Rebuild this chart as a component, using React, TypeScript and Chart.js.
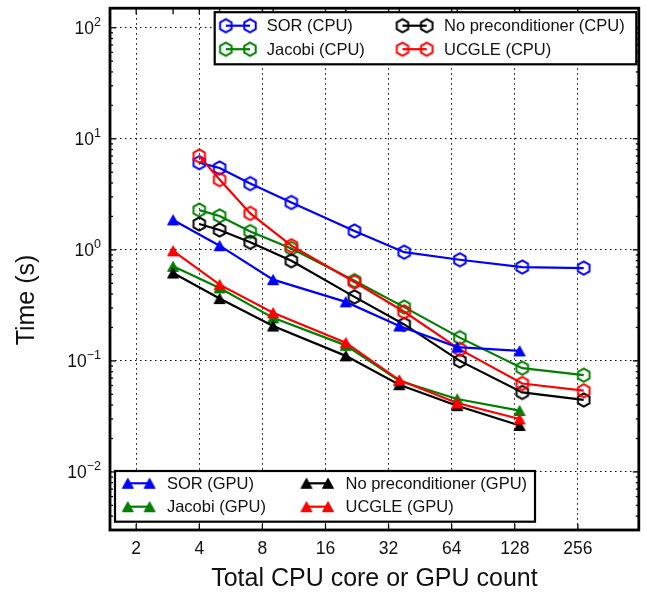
import React, { useEffect, useRef } from 'react';
import { Chart, registerables } from 'chart.js';
Chart.register(...registerables);

// ---- data ----
const cpuCounts = [4, 5, 7, 11, 22, 38, 70, 139, 273];
const gpuCounts = [3, 5, 9, 20, 36, 68, 135];

const sorCpu = [6.1, 5.46, 3.95, 2.67, 1.48, 0.953, 0.814, 0.7, 0.685];
const jacobiCpu = [2.28, 2.02, 1.46, 1.03, 0.528, 0.305, 0.162, 0.086, 0.0744];
const noPreCpu = [1.71, 1.51, 1.17, 0.797, 0.377, 0.213, 0.1, 0.052, 0.0445];
const ucgleCpu = [7.0, 4.29, 2.13, 1.09, 0.513, 0.277, 0.127, 0.0626, 0.0539];

const sorGpu = [1.86, 1.09, 0.539, 0.34, 0.206, 0.133, 0.123];
const jacobiGpu = [0.71, 0.454, 0.244, 0.138, 0.0662, 0.0454, 0.0357];
const noPreGpu = [0.618, 0.364, 0.206, 0.111, 0.061, 0.0395, 0.0262];
const ucgleGpu = [0.98, 0.486, 0.271, 0.146, 0.0671, 0.0418, 0.03];

const cpuLabels = ['SOR (CPU)', 'Jacobi (CPU)', 'No preconditioner (CPU)', 'UCGLE (CPU)'];
const gpuLabels = ['SOR (GPU)', 'Jacobi (GPU)', 'No preconditioner (GPU)', 'UCGLE (GPU)'];
const colors = ['#0000ff', '#008000', '#000000', '#ff0000'];

const xTicks = [2, 4, 8, 16, 32, 64, 128, 256];
const xTickLabels = ['2', '4', '8', '16', '32', '64', '128', '256'];
const yTicks = [0.01, 0.1, 1, 10, 100];
const yTickExp = ['\u22122', '\u22121', '0', '1', '2'];

const X_MIN = 1.5;
const X_MAX = 500;
const Y_MIN = 0.003;
const Y_MAX = 150;

const FONT = '"Liberation Sans", Arial, sans-serif';

function makeHexagon(color: string): HTMLCanvasElement {
  const r = 6.6;
  const lw = 2;
  const size = Math.ceil(2 * r + lw + 4);
  const c = document.createElement('canvas');
  c.width = size;
  c.height = size;
  const g = c.getContext('2d')!;
  const cx = size / 2;
  const cy = size / 2;
  g.beginPath();
  for (let k = 0; k < 6; k++) {
    const a = -Math.PI / 2 + (k * Math.PI) / 3;
    const px = cx + r * Math.cos(a);
    const py = cy + r * Math.sin(a);
    if (k === 0) g.moveTo(px, py);
    else g.lineTo(px, py);
  }
  g.closePath();
  g.strokeStyle = color;
  g.lineWidth = lw;
  g.stroke();
  return c;
}

function makeTriangle(color: string): HTMLCanvasElement {
  const w = 12;
  const h = 11;
  const c = document.createElement('canvas');
  c.width = w + 2;
  c.height = h + 2;
  const g = c.getContext('2d')!;
  g.beginPath();
  g.moveTo(1 + w / 2, 1.5);
  g.lineTo(1.5, h + 0.5);
  g.lineTo(w + 0.5, h + 0.5);
  g.closePath();
  g.fillStyle = color;
  g.fill();
  g.strokeStyle = color;
  g.lineWidth = 1;
  g.stroke();
  return c;
}

export default function App() {
  const ref = useRef<HTMLCanvasElement | null>(null);

  useEffect(() => {
    if (!ref.current) return;
    const hex = colors.map(makeHexagon);
    const tri = colors.map(makeTriangle);
    const cpuSeries = [sorCpu, jacobiCpu, noPreCpu, ucgleCpu];
    const gpuSeries = [sorGpu, jacobiGpu, noPreGpu, ucgleGpu];

    const datasets: any[] = [];
    cpuSeries.forEach((s, i) => {
      datasets.push({
        label: cpuLabels[i],
        data: cpuCounts.map((x, j) => ({ x, y: s[j] })),
        borderColor: colors[i],
        borderWidth: 2.2,
        pointStyle: hex[i],
        pointRadius: 6,
        fill: false,
        tension: 0,
      });
    });
    gpuSeries.forEach((s, i) => {
      datasets.push({
        label: gpuLabels[i],
        data: gpuCounts.map((x, j) => ({ x, y: s[j] })),
        borderColor: colors[i],
        backgroundColor: colors[i],
        borderWidth: 2.2,
        pointStyle: tri[i],
        pointRadius: 6,
        fill: false,
        tension: 0,
      });
    });
    const n = datasets.length;
    datasets.forEach((d, i) => (d.order = n - i));

    const line = (ctx: CanvasRenderingContext2D, x1: number, y1: number, x2: number, y2: number) => {
      ctx.beginPath();
      ctx.moveTo(x1, y1);
      ctx.lineTo(x2, y2);
      ctx.stroke();
    };

    const drawLegend = (
      ctx: CanvasRenderingContext2D,
      box: [number, number, number, number],
      rows: [number, number],
      cols: { m1: number; m2: number; tx: number }[],
      labels: string[],
      markers: HTMLCanvasElement[]
    ) => {
      const [x0, y0, x1, y1] = box;
      ctx.fillStyle = '#ffffff';
      ctx.fillRect(x0, y0, x1 - x0, y1 - y0);
      ctx.strokeStyle = '#000';
      ctx.lineWidth = 2.2;
      ctx.strokeRect(x0, y0, x1 - x0, y1 - y0);
      ctx.font = `16.5px ${FONT}`;
      ctx.textBaseline = 'middle';
      ctx.textAlign = 'left';
      for (let i = 0; i < 4; i++) {
        const col = cols[Math.floor(i / 2)];
        const ry = rows[i % 2];
        ctx.strokeStyle = colors[i];
        ctx.lineWidth = 2.2;
        line(ctx, col.m1, ry, col.m2, ry);
        const m = markers[i];
        ctx.drawImage(m, col.m1 - m.width / 2, ry - m.height / 2);
        ctx.drawImage(m, col.m2 - m.width / 2, ry - m.height / 2);
        ctx.fillStyle = '#111';
        ctx.fillText(labels[i], col.tx, ry + 1);
      }
    };

    const framePlugin = {
      id: 'frame',
      afterDraw(chart: any) {
        const ctx: CanvasRenderingContext2D = chart.ctx;
        const { left, right, top, bottom } = chart.chartArea;
        const xs = chart.scales.x;
        const ys = chart.scales.y;
        ctx.save();
        ctx.strokeStyle = '#000';
        ctx.lineWidth = 1.3;
        // x ticks
        xTicks.forEach((v) => {
          const px = xs.getPixelForValue(v);
          line(ctx, px, bottom, px, bottom - 6);
          line(ctx, px, top, px, top + 6);
        });
        gpuCounts.forEach((v) => {
          const px = xs.getPixelForValue(v);
          line(ctx, px, top, px, top + 6);
        });
        // y ticks (major + minor)
        for (let k = -3; k <= 2; k++) {
          for (let m = 1; m <= 9; m++) {
            const v = m * Math.pow(10, k);
            if (v < Y_MIN || v > Y_MAX) continue;
            const py = ys.getPixelForValue(v);
            const len = m === 1 ? 6 : 3;
            line(ctx, left, py, left + len, py);
            line(ctx, right, py, right - len, py);
          }
        }
        // frame
        ctx.lineWidth = 2.8;
        ctx.strokeRect(left, top, right - left, bottom - top);

        // x tick labels
        ctx.fillStyle = '#111';
        ctx.font = `17.5px ${FONT}`;
        ctx.textAlign = 'center';
        ctx.textBaseline = 'alphabetic';
        xTicks.forEach((v, i) => {
          ctx.fillText(xTickLabels[i], xs.getPixelForValue(v), 554);
        });
        // y tick labels with superscripts
        yTicks.forEach((v, i) => {
          const py = ys.getPixelForValue(v);
          ctx.font = `12.5px ${FONT}`;
          const ew = ctx.measureText(yTickExp[i]).width;
          ctx.font = `17.5px ${FONT}`;
          const bw = ctx.measureText('10').width;
          const xEnd = 101;
          ctx.textAlign = 'left';
          ctx.fillText('10', xEnd - ew - bw, py + 6.5);
          ctx.font = `12.5px ${FONT}`;
          ctx.fillText(yTickExp[i], xEnd - ew, py - 1.5);
        });

        // axis titles
        ctx.font = `25px ${FONT}`;
        ctx.textAlign = 'center';
        ctx.textBaseline = 'alphabetic';
        ctx.fillText('Total CPU core or GPU count', (left + right) / 2, 586);
        ctx.save();
        ctx.translate(27, 300);
        ctx.rotate(-Math.PI / 2);
        ctx.textBaseline = 'middle';
        ctx.fillText('Time (s)', 0, 0);
        ctx.restore();

        // legends
        drawLegend(
          ctx,
          [214.7, 12.2, 636.3, 64.3],
          [25.7, 49.2],
          [
            { m1: 225.8, m2: 250, tx: 266.7 },
            { m1: 402.5, m2: 426.7, tx: 444 },
          ],
          cpuLabels,
          hex
        );
        drawLegend(
          ctx,
          [115, 471, 535, 521.7],
          [483.3, 506.7],
          [
            { m1: 127.8, m2: 149.6, tx: 166.9 },
            { m1: 306.5, m2: 328, tx: 345.5 },
          ],
          gpuLabels,
          tri
        );
        ctx.restore();
      },
    };

    const chart = new Chart(ref.current, {
      type: 'line',
      data: { datasets },
      options: {
        animation: false,
        responsive: false,
        layout: { padding: { left: 0, top: 4, right: 7, bottom: 0 } },
        plugins: { legend: { display: false }, tooltip: { enabled: false } },
        scales: {
          x: {
            type: 'logarithmic',
            min: X_MIN,
            max: X_MAX,
            afterBuildTicks: (axis: any) => {
              axis.ticks = xTicks.map((v) => ({ value: v }));
            },
            afterFit: (axis: any) => {
              axis.height = 64;
            },
            ticks: { display: false },
            grid: { color: '#000', lineWidth: 1, drawTicks: false },
            border: { display: false, dash: [1.5, 3.5] },
          },
          y: {
            type: 'logarithmic',
            min: Y_MIN,
            max: Y_MAX,
            afterBuildTicks: (axis: any) => {
              axis.ticks = yTicks.map((v) => ({ value: v }));
            },
            afterFit: (axis: any) => {
              axis.width = 110;
            },
            ticks: { display: false },
            grid: { color: '#000', lineWidth: 1, drawTicks: false },
            border: { display: false, dash: [1.5, 3.5] },
          },
        },
      } as any,
      plugins: [framePlugin],
    });
    return () => chart.destroy();
  }, []);

  return (
    <div style={{ position: 'absolute', left: 0, top: 0, width: 647, height: 594, background: '#fff' }}>
      <canvas ref={ref} width={647} height={594} style={{ display: 'block' }} />
    </div>
  );
}
